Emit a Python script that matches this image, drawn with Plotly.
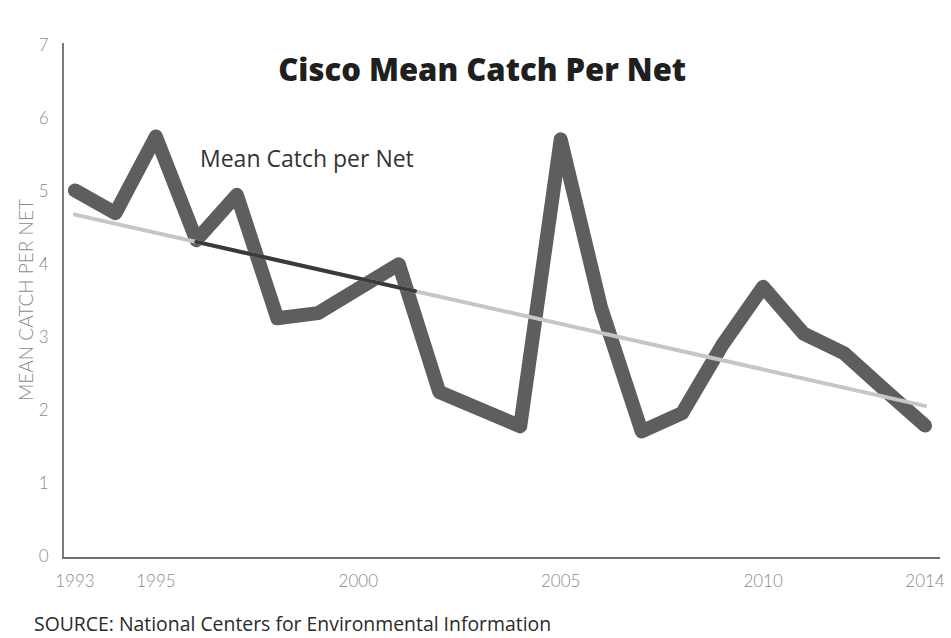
import numpy as np
import plotly.graph_objects as go

# Annual cisco survey results
years = list(range(1993, 2015))
mean_catch = [5.01, 4.70, 5.75, 4.33, 4.95, 3.26, 3.33, 3.68, 4.00, 2.25, 2.02,
              1.78, 5.71, 3.40, 1.71, 1.96, 2.90, 3.69, 3.05, 2.78, 2.28, 1.79]

# Linear trend endpoints
trend_years = [1993, 2014]
trend_values = [4.68, 2.06]

# Darker stretch of the trend line
dark_years = [1996.0, 2001.4]
dark_values = list(np.interp(dark_years, trend_years, trend_values))

tick_years = [1993, 1995, 2000, 2005, 2010, 2014]
tick_text = [str(y) for y in tick_years]
y_ticks = [0, 1, 2, 3, 4, 5, 6, 7]

fig = go.Figure()

fig.add_trace(go.Scatter(
    x=years, y=mean_catch, mode="lines",
    line=dict(color="#5e5e5e", width=14, shape="linear"),
    hoverinfo="x+y", showlegend=False,
))
fig.add_trace(go.Scatter(
    x=trend_years, y=trend_values, mode="lines",
    line=dict(color="#c6c6c6", width=4),
    showlegend=False,
))
fig.add_trace(go.Scatter(
    x=dark_years, y=dark_values, mode="lines",
    line=dict(color="#3a3a3a", width=4),
    showlegend=False,
))

tick_font = dict(family="Lato", size=17, color="#8a8a8a", weight=300)

fig.update_layout(
    width=951, height=638,
    margin=dict(l=64, r=6, t=43, b=81),
    paper_bgcolor="white", plot_bgcolor="white",
    showlegend=False,
    xaxis=dict(
        range=[1992.73, 2014.37],
        tickmode="array", tickvals=tick_years, ticktext=tick_text,
        showgrid=False, zeroline=False,
        showline=True, linecolor="#6f6f6f", linewidth=2,
        ticks="", ticklabelstandoff=8,
        tickfont=tick_font,
    ),
    yaxis=dict(
        range=[-0.01, 7.03],
        tickmode="array", tickvals=y_ticks,
        showgrid=False, zeroline=False,
        showline=True, linecolor="#7a7a7a", linewidth=2,
        ticks="", ticklabelstandoff=10,
        tickfont=tick_font,
        title=dict(text="MEAN CATCH PER NET", standoff=0,
                   font=dict(family="Lato", size=19, color="#8a8a8a", weight=300)),
    ),
    title=dict(
        text="Cisco Mean Catch Per Net",
        x=0.507, xanchor="center", y=0.89, yanchor="middle",
        font=dict(family="Open Sans", size=31, color="#1f1f1f", weight=800),
    ),
)

fig.add_annotation(
    text="Mean Catch per Net", xref="x", yref="y",
    x=1996.05, y=5.45, xanchor="left", yanchor="middle",
    showarrow=False,
    font=dict(family="Open Sans", size=23, color="#333333"),
)

fig.add_annotation(
    text="SOURCE: National Centers for Environmental Information",
    xref="paper", yref="paper", x=-0.037, y=-0.13,
    xanchor="left", yanchor="middle", showarrow=False,
    font=dict(family="Open Sans", size=19.4, color="#2a2a2a"),
)

# Rounded joins and caps on the plotted lines
round_joins = """
var gd = document.getElementById('{plot_id}');
function roundLines() {
  gd.querySelectorAll('.scatterlayer .js-line').forEach(function (p) {
    p.style.strokeLinejoin = 'round';
    p.style.strokeLinecap = 'round';
  });
}
roundLines();
gd.on('plotly_afterplot', roundLines);
"""

fig.write_html("out.html", post_script=round_joins)
